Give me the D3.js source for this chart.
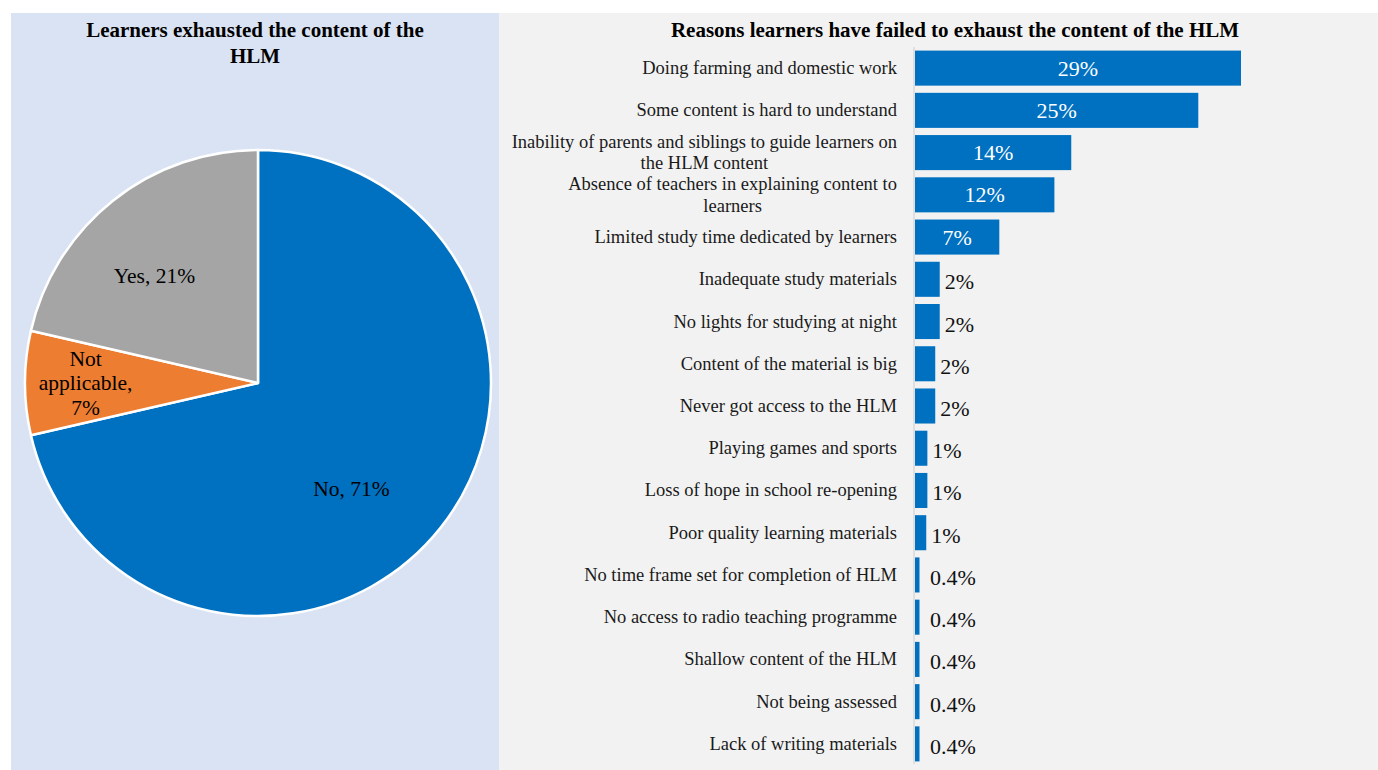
<!DOCTYPE html>
<html>
<head>
<meta charset="utf-8">
<script src="https://cdn.jsdelivr.net/npm/d3@7"></script>
<style>
  body { margin: 0; background: #fff; }
  svg { display: block; font-family: "Liberation Serif", "Times New Roman", serif; }
</style>
</head>
<body>
<svg id="chart" width="1378" height="770"></svg>
<script>
// pie data
const pieCats = ['No', 'Not applicable', 'Yes']
const pieValues = [71.4, 7.2, 21.4]
const pieLabels = [['No, 71%'], ['Not', 'applicable,', '7%'], ['Yes, 21%']]
const pieColors = ['#0070c0', '#ed7d31', '#a5a5a5']

// bar data
const reasons = [
    ['Doing farming and domestic work'],
    ['Some content is hard to understand'],
    ['Inability of parents and siblings to guide learners on', 'the HLM content'],
    ['Absence of teachers in explaining content to', 'learners'],
    ['Limited study time dedicated by learners'],
    ['Inadequate study materials'],
    ['No lights for studying at night'],
    ['Content of the material is big'],
    ['Never got access to the HLM'],
    ['Playing games and sports'],
    ['Loss of hope in school re-opening'],
    ['Poor quality learning materials'],
    ['No time frame set for completion of HLM'],
    ['No access to radio teaching programme'],
    ['Shallow content of the HLM'],
    ['Not being assessed'],
    ['Lack of writing materials']
]
const reasonValues = [29.0, 25.2, 13.9, 12.4, 7.5, 2.2, 2.2, 1.8, 1.8, 1.1, 1.1, 1.0, 0.4, 0.4, 0.4, 0.4, 0.4]
const reasonLabels = ['29%', '25%', '14%', '12%', '7%', '2%', '2%', '2%', '2%', '1%', '1%', '1%', '0.4%', '0.4%', '0.4%', '0.4%', '0.4%']

const svg = d3.select('#chart')

// panels
svg.append('rect').attr('x', 11).attr('y', 13).attr('width', 488).attr('height', 757).attr('fill', '#dae3f3')
svg.append('rect').attr('x', 499).attr('y', 13).attr('width', 879).attr('height', 757).attr('fill', '#f2f2f2')

// ---- pie ----
const pieTitle = svg.append('text')
    .attr('text-anchor', 'middle')
    .style('font-weight', 'bold')
    .style('font-size', '21px')
pieTitle.append('tspan').attr('x', 255).attr('y', 37).text('Learners exhausted the content of the')
pieTitle.append('tspan').attr('x', 255).attr('y', 63).text('HLM')

const radius = 233
const pieG = svg.append('g').attr('transform', 'translate(258,383)')

const pie = d3.pie().sort(null).value(d => d)
const arc = d3.arc().innerRadius(0).outerRadius(radius)
const arcs = pie(pieValues)

pieG.selectAll('path')
    .data(arcs)
    .enter()
        .append('path')
        .attr('d', arc)
        .attr('fill', (d, i) => pieColors[i])
        .attr('stroke', '#fff')
        .attr('stroke-width', 2.5)
        .attr('stroke-linejoin', 'round')

// label placement: fraction of radius and angle nudge (degrees) from slice mid-angle
const labelR = [0.605, 0.74, 0.64]
const labelNudge = [10, 0, -5.5]
pieG.selectAll('.pie-label')
    .data(arcs)
    .enter()
        .append('text')
        .attr('class', 'pie-label')
        .attr('text-anchor', 'middle')
        .style('font-size', '21.5px')
        .attr('fill', '#000')
        .each(function (d, i) {
            const a = (d.startAngle + d.endAngle) / 2 + labelNudge[i] * Math.PI / 180
            const r = radius * labelR[i]
            const cx = r * Math.sin(a)
            const cy = -r * Math.cos(a)
            const lines = pieLabels[i]
            const lh = 24.5
            const y0 = cy - (lines.length - 1) * lh / 2 + 7
            lines.forEach((l, j) => {
                d3.select(this).append('tspan').attr('x', cx).attr('y', y0 + j * lh).text(l)
            })
        })

// ---- bars ----
svg.append('text')
    .attr('x', 955)
    .attr('y', 37)
    .attr('text-anchor', 'middle')
    .style('font-weight', 'bold')
    .style('font-size', '21px')
    .text('Reasons learners have failed to exhaust the content of the HLM')

const x = d3.scaleLinear().domain([0, 29]).range([915, 1241])
const y = d3.scaleBand()
    .domain(d3.range(reasons.length))
    .range([47, 765])
    .paddingInner(0.17)
    .paddingOuter(0.085)

svg.append('line')
    .attr('x1', 914).attr('x2', 914)
    .attr('y1', 47).attr('y2', 764)
    .attr('stroke', '#d9d9d9')
    .attr('stroke-width', 1.5)

svg.selectAll('.bar')
    .data(reasonValues)
    .enter()
        .append('rect')
        .attr('class', 'bar')
        .attr('x', x(0))
        .attr('y', (d, i) => y(i))
        .attr('width', d => x(d) - x(0))
        .attr('height', y.bandwidth())
        .attr('fill', '#0070c0')

const catSize = '18.5px'
svg.selectAll('.cat')
    .data(reasons)
    .enter()
        .append('text')
        .attr('class', 'cat')
        .style('font-size', catSize)
        .attr('fill', '#1a1a1a')
        .each(function (lines, i) {
            const t = d3.select(this)
            const cy = y(i) + y.bandwidth() / 2
            const lh = 21.5
            if (lines.length === 1) {
                t.attr('text-anchor', 'end')
                t.append('tspan').attr('x', 897).attr('y', cy + 6).text(lines[0])
            } else {
                t.attr('text-anchor', 'middle')
                const tmp = svg.append('text').style('font-size', catSize).text(lines[0])
                const w = tmp.node().getComputedTextLength()
                tmp.remove()
                const cx = 897 - w / 2
                lines.forEach((l, j) => {
                    t.append('tspan').attr('x', cx).attr('y', cy + 6 - lh / 2 + j * lh).text(l)
                })
            }
        })

svg.selectAll('.val')
    .data(reasonValues)
    .enter()
        .append('text')
        .attr('class', 'val')
        .style('font-size', '22px')
        .attr('text-anchor', d => d > 5 ? 'middle' : 'start')
        .attr('fill', d => d > 5 ? '#fff' : '#111')
        .attr('x', d => d > 5 ? (x(0) + x(d)) / 2 : Math.max(x(d) + 5, x(0) + 15))
        .attr('y', (d, i) => y(i) + y.bandwidth() / 2 + (d > 5 ? 7.5 : 10))
        .text((d, i) => reasonLabels[i])
</script>
</body>
</html>
